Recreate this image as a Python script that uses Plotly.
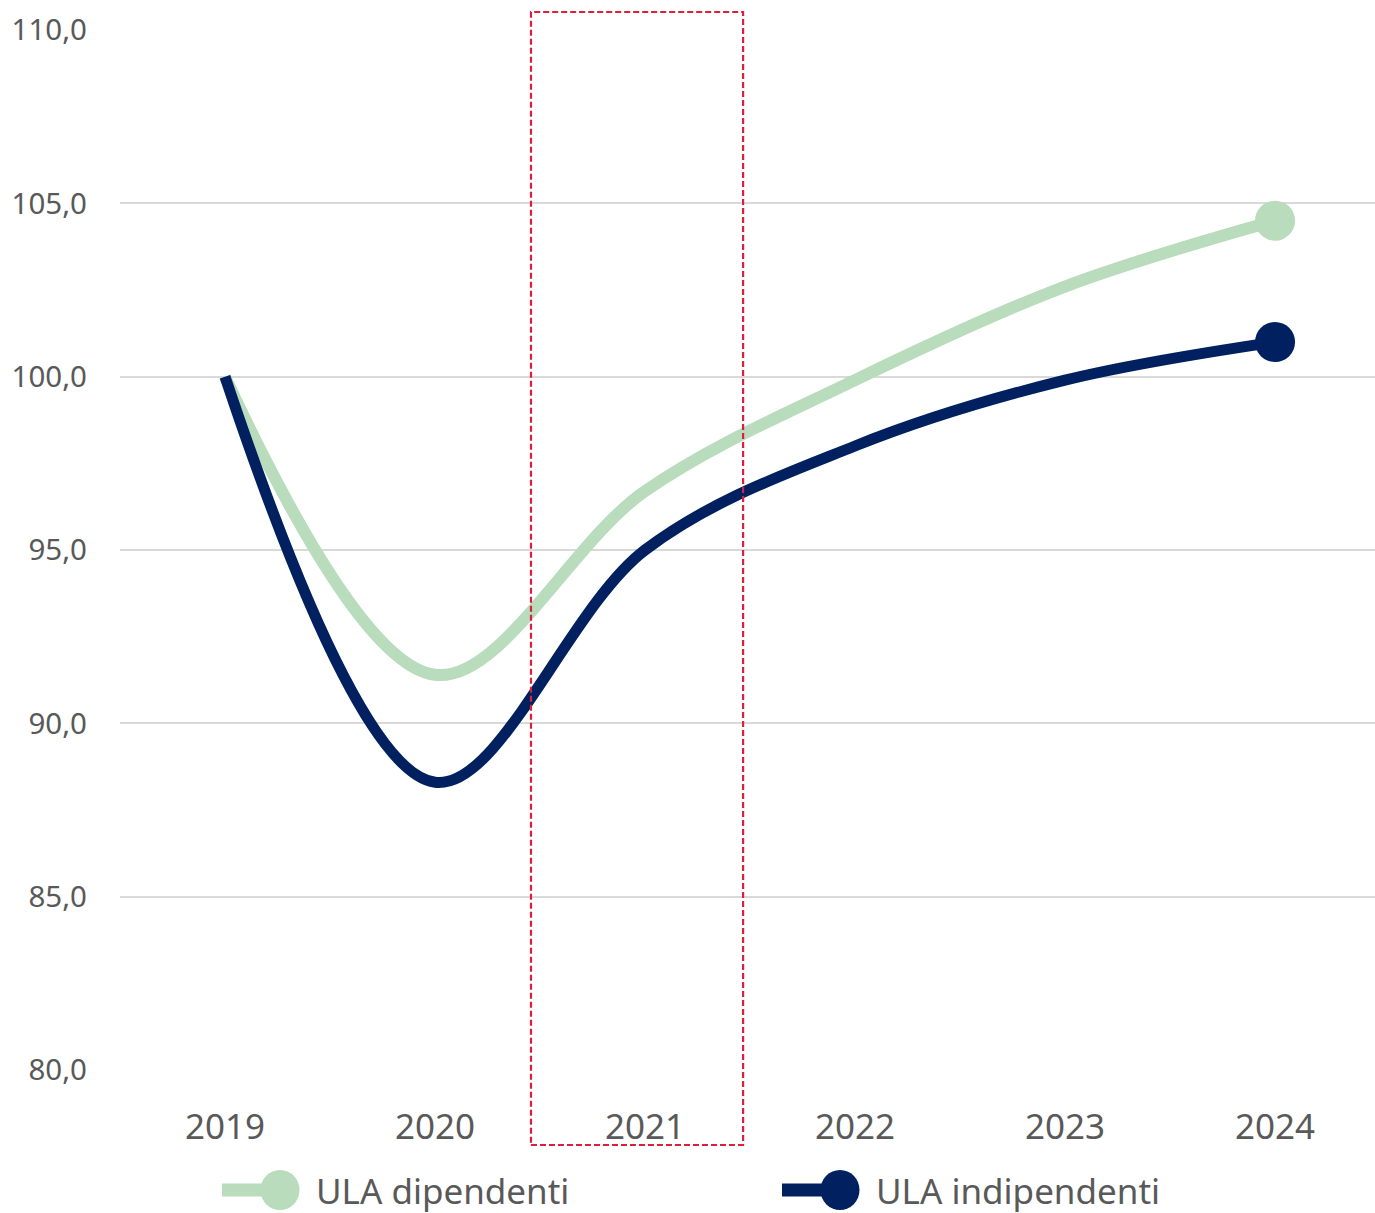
import plotly.graph_objects as go

# Indici ULA (2019 = 100)
years = ["2019", "2020", "2021", "2022", "2023", "2024"]
ula_dipendenti = [100.0, 91.4, 96.7, 99.9, 102.6, 104.5]
ula_indipendenti = [100.0, 88.3, 95.0, 98.0, 99.9, 101.0]

series_names = ["ULA dipendenti", "ULA indipendenti"]
series_colors = ["#b8dcbc", "#002060"]
line_widths = [12, 11]
y_ticks = [80, 85, 90, 95, 100, 105, 110]

FONT = "Noto Sans"
GREY = "#595959"

fig = go.Figure()
for name, vals, col, lw in zip(series_names, [ula_dipendenti, ula_indipendenti],
                               series_colors, line_widths):
    # linea smussata
    fig.add_trace(go.Scatter(
        x=years, y=vals, name=name, mode="lines",
        line=dict(color=col, width=lw, shape="spline", smoothing=1.0),
        showlegend=False, hoverinfo="x+y+name",
    ))
    # punto finale (ultimo anno)
    fig.add_trace(go.Scatter(
        x=years[-1:], y=vals[-1:], name=name, mode="markers",
        marker=dict(color=col, size=40, opacity=1, line=dict(width=0)),
        showlegend=False, hoverinfo="x+y+name",
    ))

# Evidenziazione dell'anno 2021
fig.add_shape(type="rect", xref="x", yref="paper",
              x0=1.457, x1=2.467, y0=-0.0721, y1=1.0173,
              line=dict(color="#dc1f3a", width=2.2, dash="6px,3px"),
              fillcolor="rgba(0,0,0,0)", layer="above")

# Legenda personalizzata: linea + cerchio + testo
legend_pos = [0.0813, 0.5275]
for name, col, x0 in zip(series_names, series_colors, legend_pos):
    fig.add_shape(type="line", xref="paper", yref="paper",
                  x0=x0, x1=x0 + 0.0462, y0=-0.1154, y1=-0.1154,
                  line=dict(color=col, width=13))
    fig.add_shape(type="circle", xref="paper", yref="paper",
                  xsizemode="pixel", ysizemode="pixel",
                  xanchor=x0 + 0.0462, yanchor=-0.1154,
                  x0=-19.5, x1=19.5, y0=-20, y1=20,
                  fillcolor=col, line=dict(width=0))
    fig.add_annotation(xref="paper", yref="paper", x=x0 + 0.0735, y=-0.1154,
                       text=name, showarrow=False, xanchor="left", yanchor="middle",
                       font=dict(family=FONT, size=35, color=GREY))

fig.update_layout(
    width=1375, height=1213,
    margin=dict(l=120, r=0, t=30, b=143),
    paper_bgcolor="white", plot_bgcolor="white",
    separators=",.",
    font=dict(family=FONT, color=GREY),
    xaxis=dict(type="category", range=[-0.5, 5.476], showgrid=False, showline=False,
               zeroline=False, ticks="", tickfont=dict(size=35, color=GREY),
               ticklabelstandoff=33),
    yaxis=dict(range=[80, 110], tickvals=y_ticks, tickformat=".1f",
               showgrid=True, gridcolor="#d9d9d9", gridwidth=2,
               zeroline=False, showline=False, ticks="",
               tickfont=dict(size=29.5, color=GREY), ticklabelstandoff=32),
)

fig.write_html("out.html")
